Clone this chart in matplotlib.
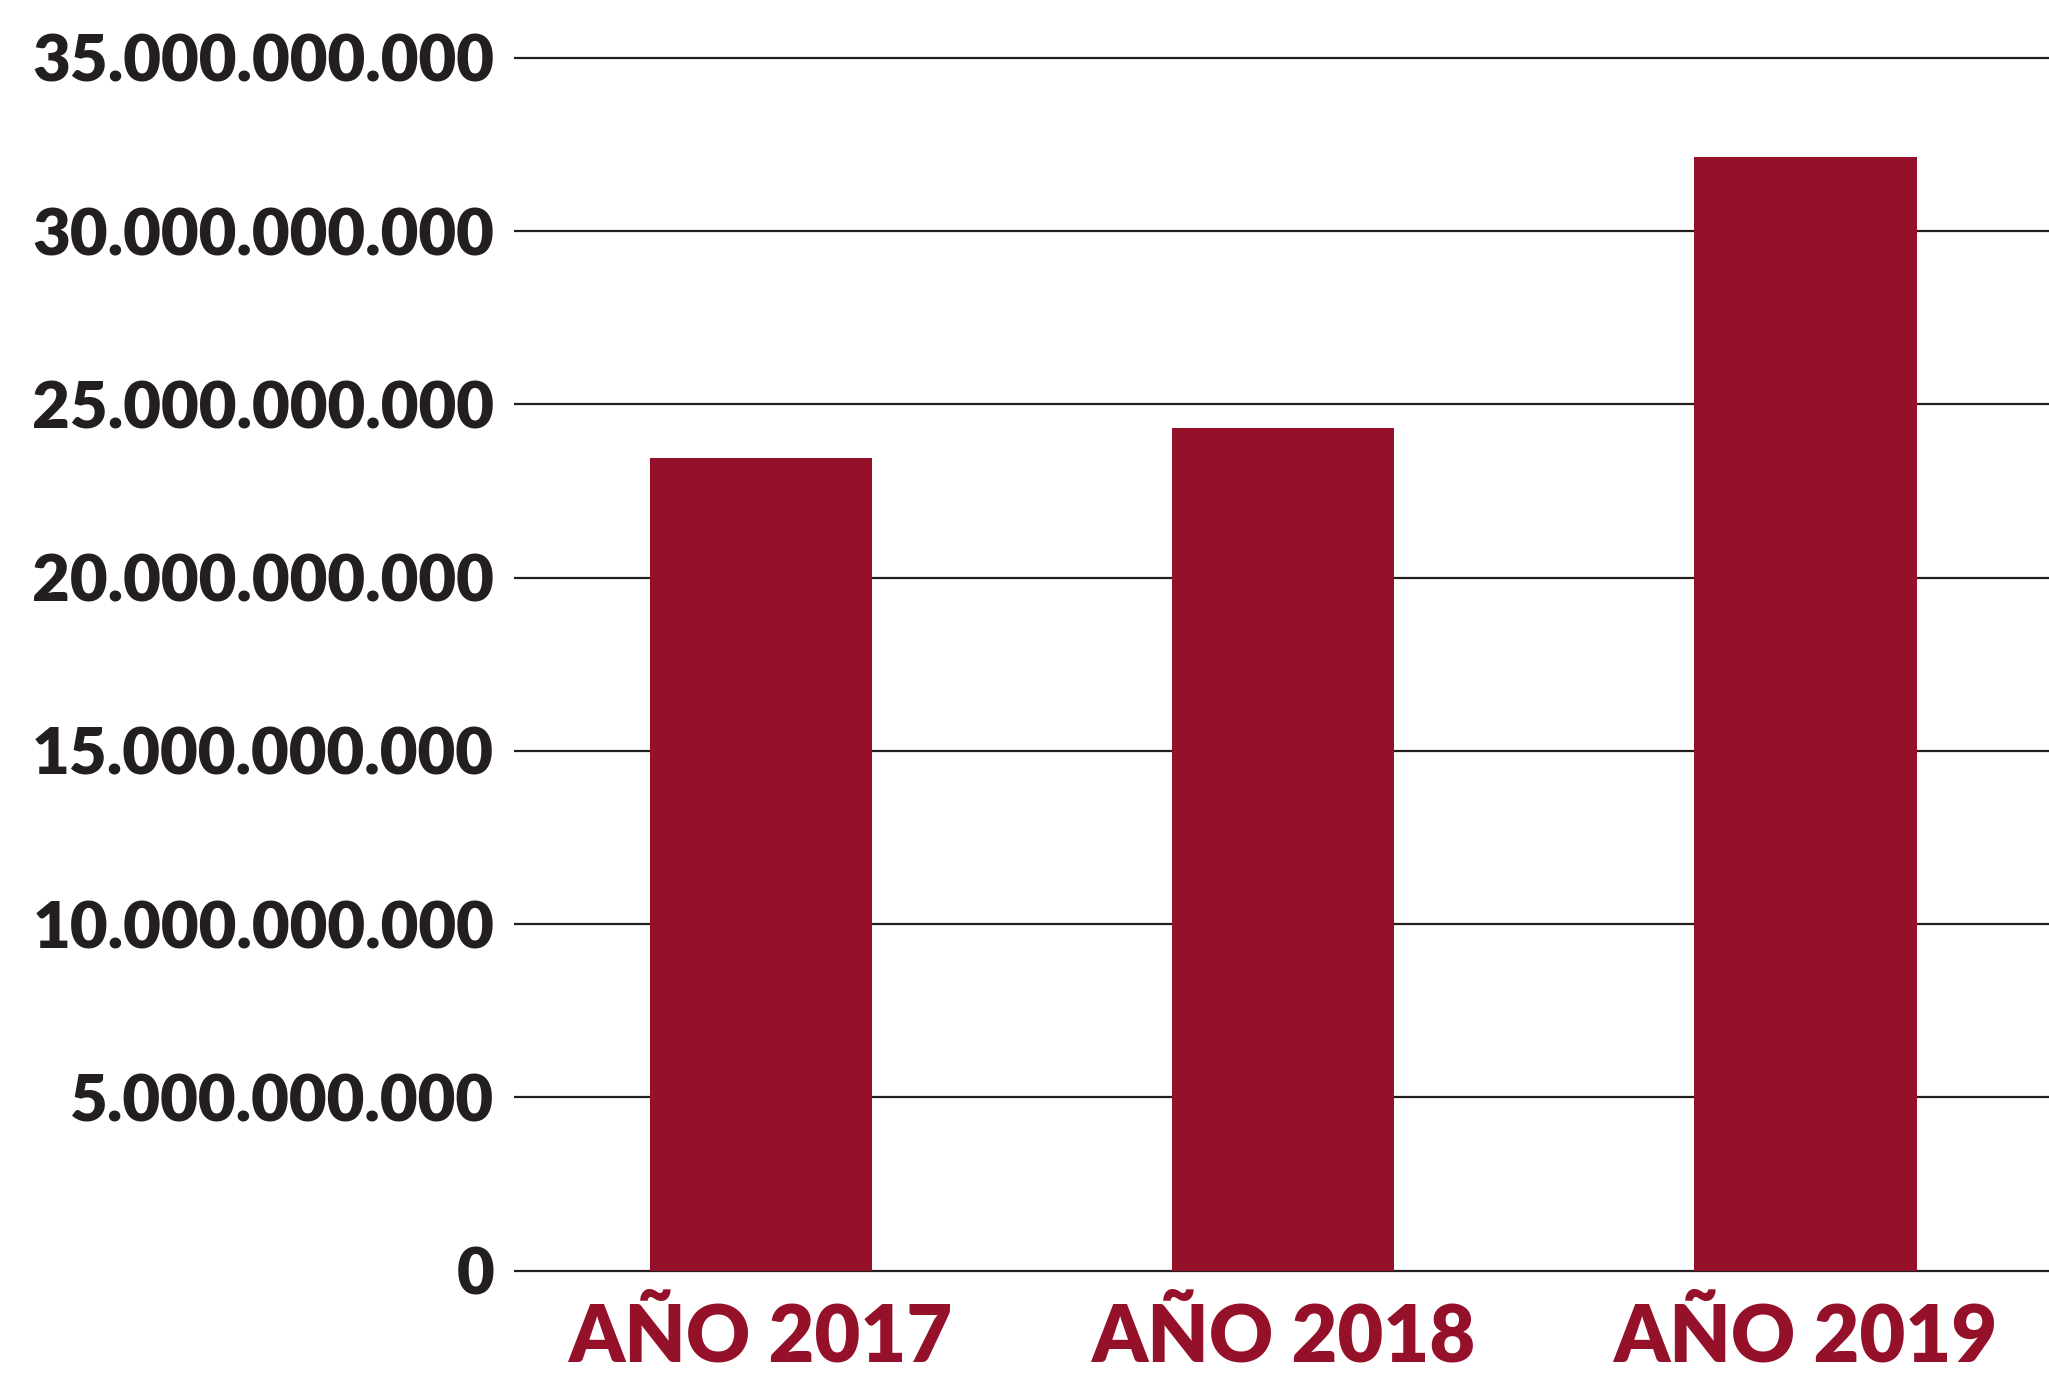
import matplotlib
matplotlib.use("Agg")
import matplotlib.pyplot as plt

# ---- data ----
categories = ["AÑO 2017", "AÑO 2018", "AÑO 2019"]
values = [23.45e9, 24.32e9, 32.13e9]
ytick_values = [0, 5e9, 10e9, 15e9, 20e9, 25e9, 30e9, 35e9]
ytick_labels = ["0", "5.000.000.000", "10.000.000.000", "15.000.000.000",
                "20.000.000.000", "25.000.000.000", "30.000.000.000",
                "35.000.000.000"]

BAR_COLOR = "#951129"
TEXT_COLOR = "#231f20"

W, H = 2049, 1378
fig = plt.figure(figsize=(W / 100, H / 100), dpi=100)
fig.patch.set_facecolor("white")

ax_left = 513.6 / W
ax_bottom = (H - 1288.0) / H
ax_top = (H - 40.4) / H
ax = fig.add_axes([ax_left, ax_bottom, 1.0 - ax_left, ax_top - ax_bottom])
ax.set_facecolor("none")

x = list(range(len(categories)))
ax.bar(x, values, width=0.425, color=BAR_COLOR, zorder=3)

ax.set_xlim(-0.4726, 2.466)
ax.set_ylim(-0.5e9, 35.5e9)

for v in ytick_values:
    ax.axhline(v, color=TEXT_COLOR, linewidth=1.6, zorder=1)

ax.set_yticks(ytick_values)
ax.set_yticklabels(ytick_labels, fontsize=47, fontweight="heavy",
                   family=["Lato", "DejaVu Sans"], color=TEXT_COLOR)
ax.tick_params(axis="y", length=0, pad=14)

ax.set_xticks(x)
ax.set_xticklabels(categories, fontsize=57, fontweight="heavy",
                   family=["Lato", "DejaVu Sans"], color=BAR_COLOR)
ax.tick_params(axis="x", length=0, pad=53)
for lbl in ax.get_xticklabels():
    lbl.set_verticalalignment("baseline")

for s in ax.spines.values():
    s.set_visible(False)

fig.savefig("out.png", dpi=100, facecolor="white")
